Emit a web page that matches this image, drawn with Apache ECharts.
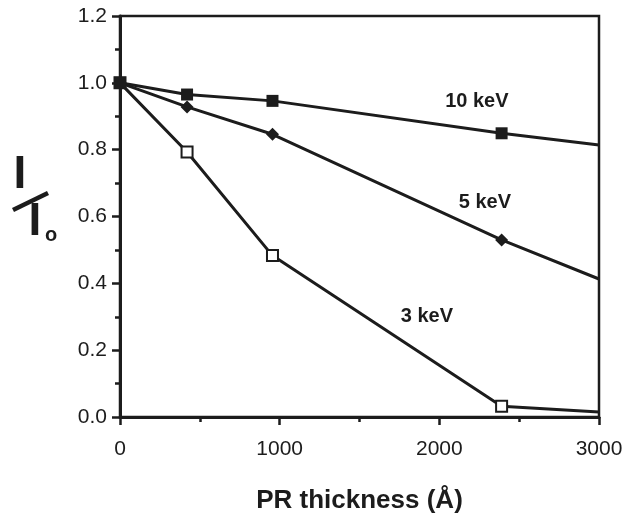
<!DOCTYPE html>
<html>
<head>
<meta charset="utf-8">
<script src="https://cdn.jsdelivr.net/npm/echarts@6/dist/echarts.min.js"></script>
<style>
  html, body { margin: 0; padding: 0; background: #fff; }
  #chart { width: 634px; height: 519px; }
</style>
</head>
<body>
<div id="chart"></div>
<script>
// PR thickness (Å)
const thickness = [0, 420, 955, 2390, 3000];
// I / Io for each beam energy (last point is the line end, no marker)
const kev10 = [1.0, 0.965, 0.946, 0.849, 0.814];
const kev5 = [1.0, 0.928, 0.846, 0.530, 0.413];
const kev3 = [1.0, 0.793, 0.483, 0.032, 0.015];
const seriesNames = ['3 keV', '5 keV', '10 keV'];
// label anchors [x, y] in data units
const labelPos = {'10 keV': [2235, 0.945], '5 keV': [2285, 0.641], '3 keV': [1922, 0.30]};
const xTicks = [0, 1000, 2000, 3000];

const ink = '#1c1c1c';
const chart = echarts.init(document.getElementById('chart'));

function buildData(ys) {
    return thickness.map((x, i) => {
        const item = {value: [x, ys[i]]};
        if (i === thickness.length - 1) item.symbol = 'none';
        return item;
    });
}

function makeSeries(name, ys, symbol, size, fill) {
    return {
        name: name,
        type: 'line',
        data: buildData(ys),
        symbol: symbol,
        symbolSize: size,
        showSymbol: true,
        lineStyle: {color: ink, width: 3},
        itemStyle: {color: fill, borderColor: ink, borderWidth: fill === '#fff' ? 2 : 0},
        markPoint: {
            symbol: 'circle',
            symbolSize: 0,
            label: {
                show: true,
                formatter: name,
                color: ink,
                fontFamily: 'Liberation Sans, Arial, sans-serif',
                fontWeight: 'bold',
                fontSize: 20
            },
            data: [{coord: labelPos[name]}]
        },
        z: 3
    };
}

chart.setOption({
    animation: false,
    backgroundColor: '#fff',
    grid: {
        left: 120,
        right: 35,
        top: 16,
        bottom: 93,
        show: true,
        borderColor: ink,
        borderWidth: 2.5
    },
    xAxis: {
        type: 'value',
        min: 0,
        max: 3000,
        interval: 1000,
        name: 'PR thickness (Å)',
        nameLocation: 'middle',
        nameGap: 71,
        nameTextStyle: {
            color: ink,
            fontFamily: 'Liberation Sans, Arial, sans-serif',
            fontWeight: 'bold',
            fontSize: 26
        },
        axisLine: {show: true, onZero: false, lineStyle: {color: ink, width: 3}},
        axisTick: {show: true, inside: false, length: 8, lineStyle: {color: ink, width: 2.5}},
        minorTick: {show: true, splitNumber: 2, length: 5, lineStyle: {color: ink, width: 2.5}},
        splitLine: {show: false},
        axisLabel: {
            margin: 22,
            color: ink,
            fontFamily: 'Liberation Sans, Arial, sans-serif',
            fontSize: 21,
            formatter: v => xTicks.includes(v) ? String(v) : ''
        }
    },
    yAxis: {
        type: 'value',
        min: 0,
        max: 1.2,
        interval: 0.2,
        axisLine: {show: true, onZero: false, lineStyle: {color: ink, width: 3}},
        axisTick: {show: true, inside: false, length: 8, lineStyle: {color: ink, width: 2.5}},
        minorTick: {show: true, splitNumber: 2, length: 5, lineStyle: {color: ink, width: 2.5}},
        splitLine: {show: false},
        axisLabel: {
            margin: 13,
            color: ink,
            fontFamily: 'Liberation Sans, Arial, sans-serif',
            fontSize: 21,
            formatter: v => v.toFixed(1)
        }
    },
    graphic: [
        {type: 'text', x: 20, y: 175, style: {text: 'I', fill: ink, font: 'bold 46px Liberation Sans, Arial, sans-serif', textAlign: 'center', textVerticalAlign: 'middle'}},
        {type: 'line', shape: {x1: 13, y1: 210, x2: 48, y2: 193}, style: {stroke: ink, lineWidth: 4.5}},
        {type: 'text', x: 35, y: 222, style: {text: 'I', fill: ink, font: 'bold 46px Liberation Sans, Arial, sans-serif', textAlign: 'center', textVerticalAlign: 'middle'}},
        {type: 'text', x: 51, y: 235, style: {text: 'o', fill: ink, font: 'bold 20px Liberation Sans, Arial, sans-serif', textAlign: 'center', textVerticalAlign: 'middle'}}
    ],
    series: [
        makeSeries(seriesNames[0], kev3, 'rect', 11, '#fff'),
        makeSeries(seriesNames[1], kev5, 'diamond', 13, ink),
        makeSeries(seriesNames[2], kev10, 'rect', 12, ink)
    ]
});
</script>
</body>
</html>
